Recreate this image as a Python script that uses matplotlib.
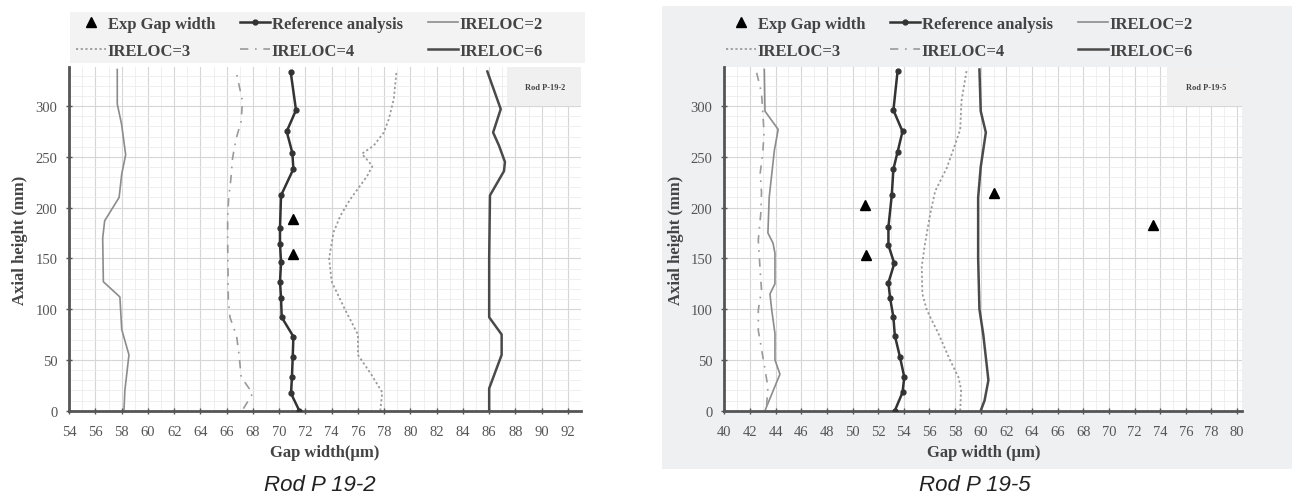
import numpy as np
import matplotlib.pyplot as plt
from matplotlib.patches import Rectangle
from matplotlib.ticker import MultipleLocator

# Rod P 19-2 (left): axial height (mm) and gap width (um)
h2_ireloc2 = [0, 20, 55, 80, 112, 127, 170, 187, 210, 233, 252, 282, 302, 336]
w2_ireloc2 = [58.17, 58.24, 58.55, 58.0, 57.86, 56.6, 56.55, 56.7, 57.8, 58.0, 58.3, 57.99, 57.66, 57.66]
h2_ireloc3 = [0, 18, 35, 55, 75, 100, 127, 150, 176, 192, 208, 231, 241, 253, 261, 274, 287, 307, 334]
w2_ireloc3 = [77.7, 77.85, 77.05, 76.0, 76.0, 75.0, 74.0, 73.8, 74.15, 74.66, 75.4, 76.7, 77.1, 76.3, 77.2, 77.97, 78.35, 78.73, 78.94]
h2_ireloc4 = [2, 17, 33, 53, 73, 92, 110, 170, 190, 210, 226, 249, 267, 285, 305, 335]
w2_ireloc4 = [67.27, 67.98, 67.1, 66.96, 66.76, 66.25, 66.12, 66.07, 66.07, 66.15, 66.3, 66.45, 66.7, 67.1, 67.2, 66.7]
h2_ireloc6 = [0, 22, 55, 75, 92, 150, 212, 236, 245, 261, 274, 297, 334]
w2_ireloc6 = [86.0, 86.0, 86.95, 86.95, 86.0, 86.0, 86.06, 87.13, 87.2, 86.75, 86.3, 86.88, 85.86]
h2_ref = [0, 17, 33, 53, 73, 92, 111, 127, 146, 164, 180, 212, 238, 254, 275, 296, 334]
w2_ref = [71.53, 70.9, 70.97, 71.03, 71.08, 70.19, 70.14, 70.06, 70.14, 70.06, 70.06, 70.14, 71.08, 71.0, 70.57, 71.28, 70.87]
h2_exp = [154, 188.5]
w2_exp = [71.08, 71.08]

# Rod P 19-5 (right)
h5_ireloc2 = [0, 36, 50, 76, 99, 115, 125, 155, 165, 175, 210, 256, 277, 295, 336]
w5_ireloc2 = [43.17, 44.34, 43.95, 43.95, 43.7, 43.56, 43.95, 43.95, 43.8, 43.4, 43.5, 43.9, 44.2, 43.17, 43.12]
h5_ireloc3 = [0, 21, 33, 50, 76, 99, 115, 142, 165, 193, 216, 239, 262, 277, 305, 335]
w5_ireloc3 = [58.4, 58.47, 58.26, 57.6, 56.7, 55.8, 55.45, 55.4, 55.66, 56.05, 56.44, 57.35, 58.0, 58.4, 58.5, 58.9]
h5_ireloc4 = [5, 23, 41, 61, 79, 99, 119, 137, 168, 195, 215, 234, 254, 274, 313, 333]
w5_ireloc4 = [43.3, 43.4, 43.17, 42.9, 42.65, 42.65, 42.9, 42.8, 42.65, 42.85, 42.9, 42.8, 43.0, 43.1, 42.9, 42.52]
h5_ireloc6 = [0, 10, 30, 75, 100, 150, 210, 240, 274, 295, 336]
w5_ireloc6 = [60.0, 60.3, 60.6, 60.2, 59.9, 59.8, 59.8, 60.0, 60.4, 60.0, 59.9]
h5_ref = [0, 18, 33, 53, 74, 92, 111, 126, 145, 163, 181, 212, 238, 255, 275, 296, 335]
w5_ref = [53.3, 53.9, 54.04, 53.7, 53.3, 53.19, 52.93, 52.8, 53.26, 52.8, 52.8, 53.06, 53.19, 53.52, 53.9, 53.19, 53.52]
h5_exp = [153.5, 203, 214, 182.6]
w5_exp = [51.03, 50.97, 61.0, 73.46]

serif = 'Liberation Serif'
plt.rcParams['font.family'] = serif

W, H = 1299, 502
fig = plt.figure(figsize=(W / 100, H / 100), dpi=100)


def px_rect(x0, y0, x1, y1, color):
    # rectangle given in pixel coords (origin top left)
    fig.add_artist(Rectangle((x0 / W, 1 - y1 / H), (x1 - x0) / W, (y1 - y0) / H,
                             transform=fig.transFigure, facecolor=color,
                             edgecolor='none', zorder=-10))


# grey backdrop of the right chart, grey strip behind left legend
px_rect(662, 7, 1292, 470, '#eff0f2')
px_rect(70, 13, 585, 64, '#f3f3f3')


def draw_panel(ax, xlim, ireloc2, ireloc3, ireloc4, ireloc6, ref, exp,
               xlabel, rodname, leg_x):
    ax.set_facecolor('white')
    ax.plot(exp[1], exp[0], '^', color='black', ms=7.5, ls='none',
            label='Exp Gap width', zorder=6)
    ax.plot(ref[1], ref[0], '-o', color='#333333', lw=1.8, ms=3.5,
            label='Reference analysis', zorder=5)
    ax.plot(ireloc2[1], ireloc2[0], '-', color='#8c8c8c', lw=1.2,
            label='IRELOC=2')
    ax.plot(ireloc3[1], ireloc3[0], color='#9a9a9a', lw=1.3,
            ls=(0, (1.2, 1.4)), label='IRELOC=3')
    ax.plot(ireloc4[1], ireloc4[0], color='#9a9a9a', lw=1.2,
            ls=(0, (5, 4, 1, 4)), label='IRELOC=4')
    ax.plot(ireloc6[1], ireloc6[0], '-', color='#4a4a4a', lw=1.8,
            label='IRELOC=6')

    ax.set_xlim(*xlim)
    ax.set_ylim(0, 338)
    ax.xaxis.set_major_locator(MultipleLocator(2))
    ax.xaxis.set_minor_locator(MultipleLocator(1))
    ax.yaxis.set_major_locator(MultipleLocator(50))
    ax.yaxis.set_minor_locator(MultipleLocator(10))
    ax.grid(which='major', color='#d6d6d6', lw=0.8)
    ax.grid(which='minor', color='#ececec', lw=0.6)
    ax.set_axisbelow(True)

    for s in ['top', 'right']:
        ax.spines[s].set_visible(False)
    for s in ['left', 'bottom']:
        ax.spines[s].set_color('#555555')
        ax.spines[s].set_linewidth(2)
    ax.tick_params(which='major', direction='inout', length=5, width=1,
                   color='#555555', labelcolor='#555555', labelsize=10.5)
    ax.tick_params(axis='x', pad=8)
    ax.tick_params(axis='y', pad=6)
    ax.tick_params(which='minor', length=0)

    ax.set_xlabel(xlabel, fontsize=12, fontweight='bold', color='#444444',
                  labelpad=4)
    ax.set_ylabel('Axial height (mm)', fontsize=12, fontweight='bold',
                  color='#444444', labelpad=5)

    # small label box in the upper right corner
    ax.add_patch(Rectangle((0.855, 0.888), 0.145, 0.112, transform=ax.transAxes,
                           facecolor='#f0f0f0', edgecolor='none', zorder=3))
    ax.text(0.93, 0.944, rodname, transform=ax.transAxes, fontsize=6,
            fontweight='bold', color='#444444', ha='center', va='center',
            zorder=4)

    handles, labels = ax.get_legend_handles_labels()
    order = [0, 3, 1, 4, 2, 5]
    leg = ax.legend([handles[i] for i in order], [labels[i] for i in order],
                    ncol=3, loc='upper left',
                    bbox_to_anchor=(leg_x / W, 1 - 17 / H),
                    bbox_transform=fig.transFigure, borderaxespad=0,
                    borderpad=0, frameon=False, handlelength=1.8,
                    handletextpad=0.1, columnspacing=1.5, labelspacing=0.65,
                    prop={'family': serif, 'weight': 'bold', 'size': 12})
    for t in leg.get_texts():
        t.set_color('#444444')


ax1 = fig.add_axes([0.0533, 0.1799, 0.394, 0.6837])
draw_panel(ax1, (54, 93), (h2_ireloc2, w2_ireloc2), (h2_ireloc3, w2_ireloc3),
           (h2_ireloc4, w2_ireloc4), (h2_ireloc6, w2_ireloc6),
           (h2_ref, w2_ref), (h2_exp, w2_exp),
           'Gap width(µm)', 'Rod P-19-2', 76)

ax2 = fig.add_axes([0.5576, 0.1799, 0.3987, 0.6837])
draw_panel(ax2, (40, 80.4), (h5_ireloc2, w5_ireloc2), (h5_ireloc3, w5_ireloc3),
           (h5_ireloc4, w5_ireloc4), (h5_ireloc6, w5_ireloc6),
           (h5_ref, w5_ref), (h5_exp, w5_exp),
           'Gap width (µm)', 'Rod P-19-5', 726)

fig.text(320 / W, 1 - 486 / H, 'Rod P 19-2', fontsize=16, style='italic',
         family='Liberation Sans', ha='center', va='center', color='#222222')
fig.text(975 / W, 1 - 486 / H, 'Rod P 19-5', fontsize=16, style='italic',
         family='Liberation Sans', ha='center', va='center', color='#222222')

fig.savefig('out.png', dpi=100)
